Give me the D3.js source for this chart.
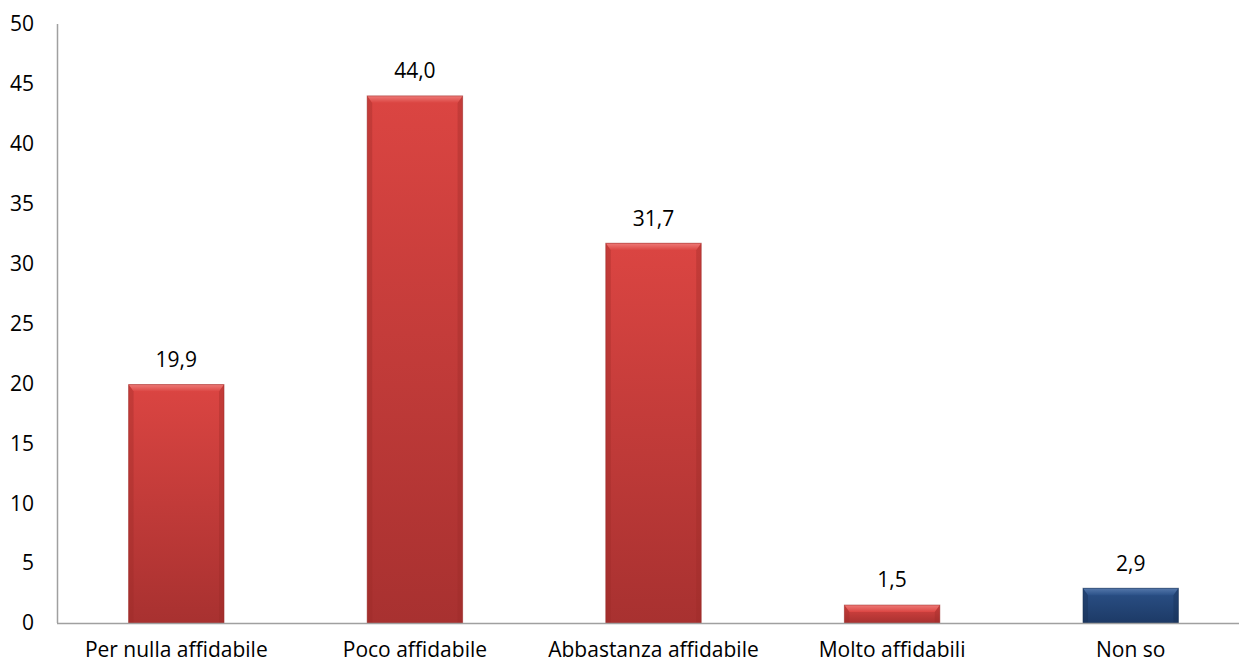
<!DOCTYPE html>
<html><head><meta charset="utf-8">
<script src="https://cdn.jsdelivr.net/npm/d3@7"></script>
<style>body{margin:0;background:#fff}svg{display:block}text{font-family:"Open Sans",sans-serif;fill:#000}</style>
</head><body>
<svg id="c" width="1239" height="664"></svg>
<script>
const categories = ["Per nulla affidabile","Poco affidabile","Abbastanza affidabile","Molto affidabili","Non so"];
const values = [19.9, 44.0, 31.7, 1.5, 2.9];
const valueLabels = ["19,9","44,0","31,7","1,5","2,9"];
const colorKeys = ["red","red","red","red","blue"];
const yTicks = [0,5,10,15,20,25,30,35,40,45,50];

const svg = d3.select("#c");
const x = d3.scaleBand().domain(categories).range([57,1250]).paddingInner(0.6).paddingOuter(0.3);
const y = d3.scaleLinear().domain([0,50]).range([623,24]);

const defs = svg.append("defs");
const pal = {
  red: {top:"#db4542", bot:"#a83130", hi:"#ee7a77", edge:"#9a2a28"},
  blue:{top:"#2b5188", bot:"#1d3a66", hi:"#5578ab", edge:"#162d50"}
};
Object.entries(pal).forEach(([k,p])=>{
  const g = defs.append("linearGradient").attr("id","g-"+k).attr("x1",0).attr("y1",0).attr("x2",0).attr("y2",1);
  g.append("stop").attr("offset","0%").attr("stop-color",p.top);
  g.append("stop").attr("offset","100%").attr("stop-color",p.bot);
  const h = defs.append("linearGradient").attr("id","h-"+k).attr("x1",0).attr("y1",0).attr("x2",0).attr("y2",1);
  h.append("stop").attr("offset","0%").attr("stop-color",p.hi);
  h.append("stop").attr("offset","100%").attr("stop-color",p.top);
});

svg.append("line").attr("x1",57.5).attr("x2",57.5).attr("y1",y(50)).attr("y2",y(0)).attr("stroke","#a0a0a0").attr("stroke-width",1.5);

svg.append("g").selectAll("text").data(yTicks).join("text")
  .attr("x",34).attr("y",d=>y(d)).attr("dy","0.35em").attr("text-anchor","end")
  .style("font-size","21px").text(d=>d);

const data = categories.map((c,i)=>({c,v:values[i],l:valueLabels[i],k:colorKeys[i]}));
const bars = svg.append("g").selectAll("g").data(data).join("g");
bars.each(function(d){
  const g = d3.select(this);
  const x0 = x(d.c), w = x.bandwidth(), yt = y(d.v), yb = y(0), h = yb-yt;
  const bev = Math.min(7, h/2);
  const side = Math.min(5, w/2);
  g.append("rect").attr("x",x0).attr("y",yt).attr("width",w).attr("height",h).attr("fill",`url(#g-${d.k})`);
  g.append("polygon").attr("points",[[x0,yt],[x0+w,yt],[x0+w-side,yt+bev],[x0+side,yt+bev]].join(" "))
    .attr("fill",`url(#h-${d.k})`);
  g.append("polygon").attr("points",[[x0,yt],[x0+side,yt+bev],[x0+side,yb],[x0,yb]].join(" "))
    .attr("fill",pal[d.k].edge).attr("opacity",0.35);
  g.append("polygon").attr("points",[[x0+w,yt],[x0+w-side,yt+bev],[x0+w-side,yb],[x0+w,yb]].join(" "))
    .attr("fill",pal[d.k].edge).attr("opacity",0.35);
  g.append("rect").attr("x",x0).attr("y",yt).attr("width",w).attr("height",h)
    .attr("fill","none").attr("stroke",pal[d.k].edge).attr("stroke-opacity",0.5).attr("stroke-width",1);
  g.append("text").attr("x",x0+w/2).attr("y",yt-25).attr("dy","0.35em").attr("text-anchor","middle")
    .style("font-size","21px").text(d.l);
});

svg.append("line").attr("x1",57).attr("x2",1250).attr("y1",y(0)+0.5).attr("y2",y(0)+0.5).attr("stroke","#a0a0a0").attr("stroke-width",1.5);

svg.append("g").selectAll("text").data(categories).join("text")
  .attr("x",d=>x(d)+x.bandwidth()/2).attr("y",650).attr("dy","0.35em").attr("text-anchor","middle")
  .style("font-size","21px").text(d=>d);
</script>
</body></html>
